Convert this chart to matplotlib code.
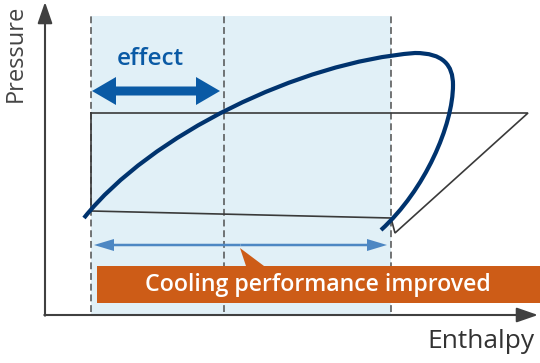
import matplotlib
matplotlib.use("Agg")
import matplotlib.pyplot as plt
from matplotlib.path import Path
from matplotlib.patches import PathPatch, Rectangle, Polygon

# diagram units: enthalpy (h) to the right, pressure (p) upward
origin = (45, 48)
h_axis_end = 538
p_axis_end = 361

# refrigeration cycle (condense -> expand -> evaporate)
cycle_h = [91, 528, 395, 391, 91, 91]
cycle_p = [250, 250, 130, 145, 152, 250]

# saturation dome as cubic bezier points (start, then 3 per segment)
dome_h = [84, 150, 300, 415, 443, 453, 453, 453, 425, 381]
dome_p = [145, 228, 301, 310, 310, 298, 278, 238, 173, 133]

# dashed markers and shaded region
marker_h = [91, 224, 391]
marker_p = (51, 347)
shade_h = (91, 391)
shade_p = (48, 347)

effect_h = (92, 220)
effect_p = 272
perf_h = (94, 387)
perf_p = 118

box_h = (97, 540)
box_p = (60, 97)
pointer_h = [240, 246, 264]
pointer_p = [115, 97, 97]

fig = plt.figure(figsize=(5.4, 3.63), dpi=100)
ax = fig.add_axes([0, 0, 1, 1])
ax.set_xlim(0, 540)
ax.set_ylim(0, 363)
ax.axis("off")

# shaded band
ax.add_patch(Rectangle((shade_h[0], shade_p[0]), shade_h[1] - shade_h[0],
                       shade_p[1] - shade_p[0], color="#e1f0f7", lw=0, zorder=0))

# dashed verticals
for h in marker_h:
    ax.plot([h, h], marker_p, color="#505050", lw=1.1, dashes=(4.5, 2.5), zorder=1)

# cycle lines
ax.plot(cycle_h, cycle_p, color="#3a3a3a", lw=1.2, zorder=2, solid_joinstyle="miter")

# dome
codes = [Path.MOVETO] + [Path.CURVE4] * 9
dome = Path(list(zip(dome_h, dome_p)), codes)
ax.add_patch(PathPatch(dome, fill=False, edgecolor="#00336e", lw=3.0,
                       capstyle="butt", zorder=3))

# axes with arrows
arrow_kw = dict(arrowstyle="-|>,head_length=1.3,head_width=0.45", lw=1.5,
                color="#404040", shrinkA=0, shrinkB=0)
ax.annotate("", xy=(origin[0], p_axis_end), xytext=(origin[0], origin[1] - 0.7),
            arrowprops=arrow_kw, zorder=4)
ax.annotate("", xy=(h_axis_end, origin[1]), xytext=(origin[0] - 0.7, origin[1]),
            arrowprops=arrow_kw, zorder=4)

# effect double arrow
mid = sum(effect_h) / 2
for end in effect_h:
    ax.arrow(mid, effect_p, end - mid, 0, width=9, head_width=28, head_length=24,
             length_includes_head=True, color="#0a5aa5", lw=0, zorder=4)
ax.text(150, 298, "effect", color="#0a5aa5", fontsize=17.5, family="Open Sans",
        weight="semibold", ha="center", va="baseline")

# performance double arrow
mid = sum(perf_h) / 2
for end in perf_h:
    ax.arrow(mid, perf_p, end - mid, 0, width=2.5, head_width=12, head_length=20,
             length_includes_head=True, color="#4d87c3", lw=0, zorder=4)

# orange label box
ax.add_patch(Rectangle((box_h[0], box_p[0]), box_h[1] - box_h[0], box_p[1] - box_p[0],
                       color="#cd5c17", lw=0, zorder=5))
ax.add_patch(Polygon(list(zip(pointer_h, pointer_p)), closed=True, color="#cd5c17",
                     lw=0, zorder=5))
ax.text(318, 78, "Cooling performance improved", color="white", fontsize=16.7,
        family="Open Sans", weight="semibold", ha="center", va="center", zorder=6)

# axis titles
ax.text(16, 310, "Pressure", color="#444444", fontsize=17, family="Open Sans",
        rotation=90, ha="center", va="center")
ax.text(534, 15, "Enthalpy", color="#333333", fontsize=19, family="Open Sans",
        ha="right", va="baseline")

fig.savefig("out.png", dpi=100)
